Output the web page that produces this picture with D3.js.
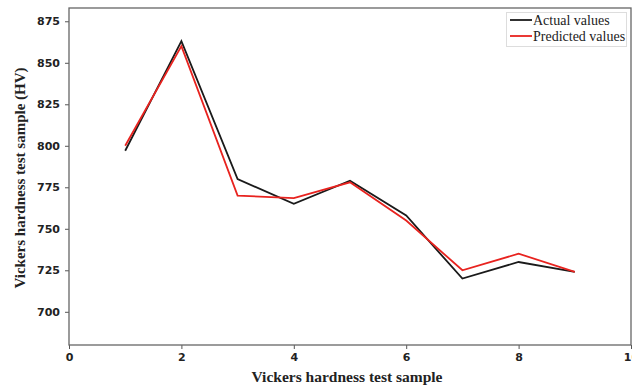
<!DOCTYPE html>
<html>
<head>
<meta charset="utf-8">
<script src="https://cdn.jsdelivr.net/npm/d3@7"></script>
<style>
  body { margin: 0; background: #fff; }
</style>
</head>
<body>
<script>
'use strict';

// chart data
const samples = [1, 2, 3, 4, 5, 6, 7, 8, 9];
const actualValues = [797, 863, 780, 765, 779, 758, 720, 730, 724];
const predictedValues = [800, 860, 770, 768.5, 778, 755, 725, 735, 724];
const xTicks = [0, 2, 4, 6, 8, 10];
const yTicks = [700, 725, 750, 775, 800, 825, 850, 875];
const seriesNames = ['Actual values', 'Predicted values'];
const seriesColors = ['#1a1a1a', '#e8231f'];

(function() {
  const width = 632, height = 388;
  const left = 69, right = 631, top = 8, bottom = 345;

  let svg = d3.select('body')
    .append('svg')
    .attr('width', width)
    .attr('height', height);

  let xScale = d3.scaleLinear().domain([0, 10]).range([left, right]);
  let yScale = d3.scaleLinear().domain([680, 883]).range([bottom, top]);

  // axes
  let xAxis = d3.axisBottom(xScale).tickValues(xTicks).tickSize(4).tickPadding(4)
    .tickFormat(d3.format('d'));
  let yAxis = d3.axisLeft(yScale).tickValues(yTicks).tickSize(4).tickPadding(5)
    .tickFormat(d3.format('d'));

  let gx = svg.append('g')
    .attr('transform', `translate(0, ${bottom})`)
    .call(xAxis);
  let gy = svg.append('g')
    .attr('transform', `translate(${left}, 0)`)
    .call(yAxis);

  [gx, gy].forEach((g) => {
    g.select('.domain').remove();
    g.selectAll('.tick line').attr('stroke', '#555').attr('stroke-width', 1);
    g.selectAll('.tick text')
      .attr('fill', '#222')
      .style('font', 'bold 11px "DejaVu Sans", sans-serif');
  });

  // frame round the plot
  svg.append('rect')
    .attr('x', left)
    .attr('y', top)
    .attr('width', right - left)
    .attr('height', bottom - top)
    .attr('fill', 'none')
    .attr('stroke', '#666')
    .attr('stroke-width', 1.3);

  // lines
  let line = d3.line()
    .x((d) => xScale(d[0]))
    .y((d) => yScale(d[1]));

  [actualValues, predictedValues].forEach((vals, i) => {
    svg.append('path')
      .datum(samples.map((s, j) => [s, vals[j]]))
      .attr('d', line)
      .attr('fill', 'none')
      .attr('stroke', seriesColors[i])
      .attr('stroke-width', 1.8)
      .attr('stroke-linejoin', 'miter');
  });

  // legend
  let legend = svg.append('g');
  legend.append('rect')
    .attr('x', 506.5)
    .attr('y', 12.5)
    .attr('width', 120)
    .attr('height', 34)
    .attr('fill', '#fff')
    .attr('stroke', '#ddd')
    .attr('stroke-width', 1);

  seriesNames.forEach((name, i) => {
    let y = 20 + i * 16;
    legend.append('line')
      .attr('x1', 510)
      .attr('x2', 532)
      .attr('y1', y)
      .attr('y2', y)
      .attr('stroke', seriesColors[i])
      .attr('stroke-width', 1.8);
    legend.append('text')
      .attr('x', 533)
      .attr('y', y + 4.5)
      .attr('fill', '#222')
      .style('font', '14px "Liberation Serif", serif')
      .text(name);
  });

  // axis titles
  svg.append('text')
    .attr('x', 347)
    .attr('y', 382)
    .attr('text-anchor', 'middle')
    .attr('fill', '#222')
    .style('font', 'bold 15.5px "Liberation Serif", serif')
    .text('Vickers hardness test sample');

  svg.append('text')
    .attr('transform', 'translate(25, 178)rotate(-90)')
    .attr('text-anchor', 'middle')
    .attr('fill', '#222')
    .style('font', 'bold 15px "Liberation Serif", serif')
    .text('Vickers hardness test sample (HV)');
})();
</script>
</body>
</html>
